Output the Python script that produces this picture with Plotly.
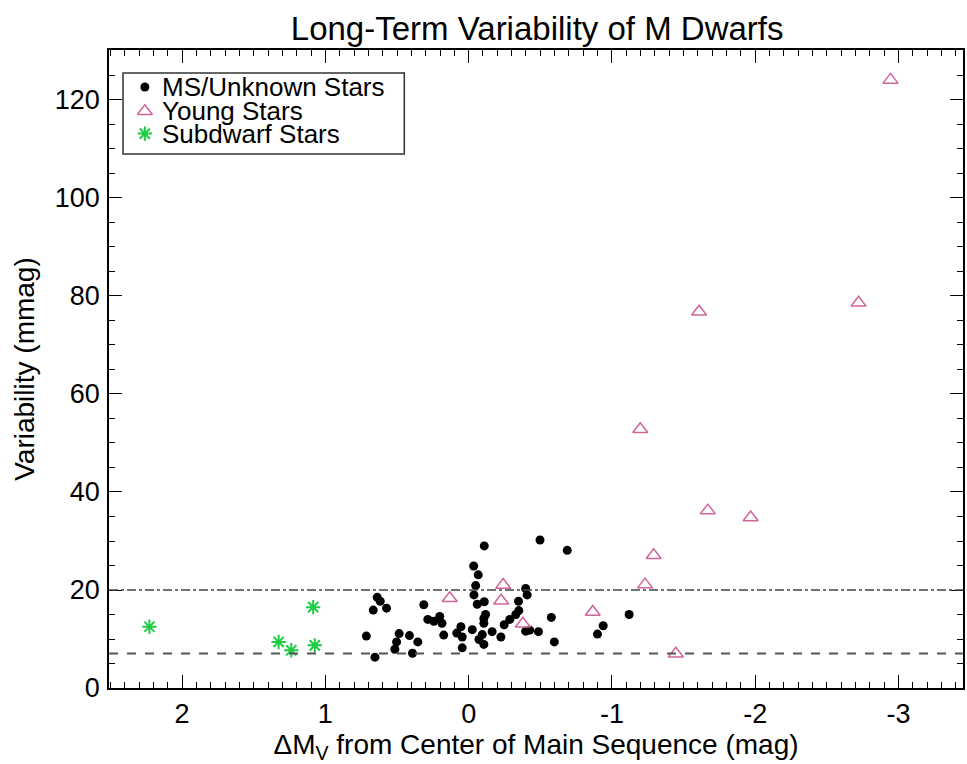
import plotly.graph_objects as go

# MS/Unknown stars
ms_x = [-0.109, -0.498, -0.688, -0.035, -0.067, -0.049, -0.037, -0.109, -0.060,
        -0.398, -0.408, -0.348, -0.350, -0.329, -0.287, -0.248, -0.118, -0.106,
        -0.106, -0.164, -0.025, -0.095, -0.072, -0.106, -0.225, -0.398, -0.426,
        -0.487, -0.577, -0.598, -0.899, -0.939, -1.120, 0.054, 0.083, 0.045,
        0.045, 0.174, 0.186, 0.202, 0.243, 0.285, 0.313, 0.355, 0.392, 0.413,
        0.485, 0.503, 0.515, 0.654, 0.714, 0.666, 0.638, 0.617, 0.573]
ms_y = [29.0, 30.2, 28.1, 24.9, 23.1, 20.9, 19.0, 17.6, 17.1,
        20.3, 19.0, 17.7, 15.8, 15.0, 14.0, 12.9, 15.0, 14.2,
        13.2, 11.5, 11.9, 10.9, 9.9, 8.9, 10.4, 11.6, 11.8,
        11.5, 14.4, 9.4, 11.0, 12.7, 15.0, 12.5, 11.2, 10.4,
        8.2, 10.8, 13.2, 14.6, 13.6, 14.0, 17.0, 9.4, 7.1, 10.7,
        11.1, 9.4, 7.9, 6.3, 10.6, 15.9, 18.5, 17.7, 16.3]

# Young stars
young_x = [-2.944, -1.608, -2.721, -1.198, -1.669, -1.968, -1.291, -1.231,
           -0.866, -1.446, -0.241, -0.227, 0.132, -0.378]
young_y = [124.1, 76.8, 78.6, 52.8, 36.2, 34.8, 27.1, 21.1,
           15.5, 7.0, 21.0, 17.8, 18.3, 13.1]

# Subdwarf stars
sd_x = [2.228, 1.326, 1.238, 1.085, 1.074]
sd_y = [12.5, 9.4, 7.7, 16.5, 8.7]

# Reference levels
dashdot_level = 20.0
dash_level = 7.05

x_range = [2.51, -3.45]
y_range = [0, 130.2]
x_ticks = [2, 1, 0, -1, -2, -3]
y_ticks = [0, 20, 40, 60, 80, 100, 120]

series_names = ["MS/Unknown Stars", "Young Stars", "Subdwarf Stars"]

FONT = "Liberation Sans, Arial, Helvetica, sans-serif"
PINK = "#d0649c"
GREEN = "#1fcc45"

styles = [
    dict(symbol="circle", size=9, color="black"),
    dict(symbol="triangle-up-open", size=13, color=PINK, line=dict(color=PINK, width=1.5)),
    dict(symbol="asterisk-open", size=12, color=GREEN, line=dict(color=GREEN, width=2)),
]

fig = go.Figure()
for (xs, ys), name, st in zip([(ms_x, ms_y), (young_x, young_y), (sd_x, sd_y)],
                              series_names, styles):
    fig.add_trace(go.Scatter(x=xs, y=ys, mode="markers", name=name,
                             marker=st, showlegend=False))

fig.add_hline(y=dashdot_level, line=dict(color="#444444", width=1.5, dash="dashdot"))
fig.add_hline(y=dash_level, line=dict(color="#555555", width=2, dash="dash"))

# ---- manual compact legend (box + symbols on an overlay axis + text) ----
leg_x0, leg_x1, leg_y0, leg_y1 = 0.0164, 0.3458, 0.837, 0.9639
row_y = [0.942, 0.904, 0.869]
sym_x = 0.042
txt_x = 0.0595
fig.add_shape(type="rect", xref="paper", yref="paper",
              x0=leg_x0, x1=leg_x1, y0=leg_y0, y1=leg_y1,
              line=dict(color="#333333", width=1.5), fillcolor="white", layer="below")
for ry, name, st in zip(row_y, series_names, styles):
    fig.add_trace(go.Scatter(x=[sym_x], y=[ry], xaxis="x2", yaxis="y2", mode="markers",
                             marker=st, showlegend=False, hoverinfo="skip"))
    fig.add_annotation(x=txt_x, y=ry, xref="paper", yref="paper", text=name,
                       showarrow=False, xanchor="left", yanchor="middle",
                       font=dict(size=26, family=FONT, color="black"))

fig.update_layout(
    width=967, height=764,
    margin=dict(l=109, r=2, t=50, b=76),
    paper_bgcolor="white", plot_bgcolor="white",
    font=dict(family=FONT, color="black", size=26),
    title=dict(text="Long-Term Variability of M Dwarfs", x=0.5555, xanchor="center",
               y=0.978, yanchor="top", font=dict(size=33, family=FONT)),
    showlegend=False,
    xaxis2=dict(overlaying="x", range=[0, 1], visible=False, fixedrange=True),
    yaxis2=dict(overlaying="y", range=[0, 1], visible=False, fixedrange=True),
)

fig.update_layout(xaxis=dict(
    range=x_range, tickvals=x_ticks, ticktext=[str(v) for v in x_ticks],
    showgrid=False, zeroline=False, showline=True, linecolor="black", linewidth=1.5,
    mirror="ticks", ticks="inside", ticklen=13, tickwidth=1.2, tickcolor="black",
    minor=dict(dtick=0.1, tick0=0, ticks="inside", ticklen=6, tickwidth=1.2, tickcolor="black"),
    tickfont=dict(size=27), ticklabelstandoff=1,
    title=dict(text="ΔM<sub>V</sub> from Center of Main Sequence (mag)", font=dict(size=28), standoff=8),
))
fig.update_layout(yaxis=dict(
    range=y_range, tickvals=y_ticks, ticktext=[str(v) for v in y_ticks],
    showgrid=False, zeroline=False, showline=True, linecolor="black", linewidth=1.5,
    mirror="ticks", ticks="inside", ticklen=13, tickwidth=1.2, tickcolor="black",
    minor=dict(dtick=5, tick0=0, ticks="inside", ticklen=6, tickwidth=1.2, tickcolor="black"),
    tickfont=dict(size=27), ticklabelstandoff=2,
    title=dict(text="Variability (mmag)", font=dict(size=28), standoff=12),
))

fig.write_html("out.html")
